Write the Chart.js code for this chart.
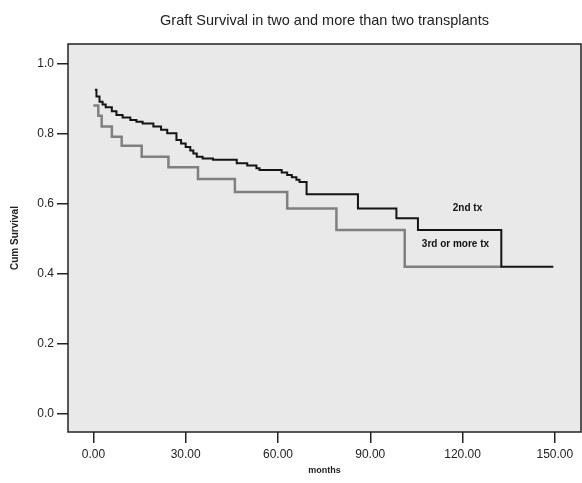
<!DOCTYPE html>
<html>
<head>
<meta charset="utf-8">
<script src="https://cdn.jsdelivr.net/npm/chart.js@4/dist/chart.umd.min.js"></script>
<style>
  html, body { margin: 0; padding: 0; background: #fff; }
  canvas { display: block; }
</style>
</head>
<body>
<canvas id="km" width="582" height="483"></canvas>
<script>
// Kaplan-Meier steps (months, cum survival after the event)
const secondTxMonths = [0.5, 1, 2, 3, 4, 6, 7.5, 9.5, 12, 14, 16, 19.5, 22, 24, 27, 28.5, 30, 31.5, 32.5, 33.6, 35.5, 38.9, 46.6, 50, 53, 54, 61.2, 63, 64.5, 66, 67, 69.3, 86, 98.5, 105.5, 132.6, 149.5];
const secondTxSurv   = [0.926, 0.907, 0.892, 0.884, 0.876, 0.865, 0.854, 0.847, 0.840, 0.835, 0.830, 0.821, 0.812, 0.802, 0.783, 0.773, 0.763, 0.753, 0.744, 0.735, 0.730, 0.726, 0.716, 0.710, 0.702, 0.697, 0.690, 0.683, 0.676, 0.669, 0.663, 0.628, 0.587, 0.559, 0.526, 0.421, 0.421];

const thirdTxMonths = [0, 1.6, 2.7, 6, 9.2, 15.7, 24.4, 34, 46, 63, 79, 101.2, 132.6];
const thirdTxSurv   = [0.881, 0.852, 0.821, 0.792, 0.766, 0.735, 0.705, 0.671, 0.634, 0.587, 0.526, 0.421, 0.421];

const xTicks = [0, 30, 60, 90, 120, 150];
const yTicks = [0, 0.2, 0.4, 0.6, 0.8, 1.0];

const chartTitle = "Graft Survival in two and more than two transplants";

// labels placed next to the curves, in data units
const curveLabels = [
  { text: "2nd tx", x: 121.6, y: 0.589 },
  { text: "3rd or more tx", x: 117.7, y: 0.485 }
];

function toPoints(xs, ys) {
  return xs.map((x, i) => ({ x: x, y: ys[i] }));
}

const fontFamily = "'Liberation Sans', Arial, sans-serif";

// grey plot area + full frame, like the SPSS output
const frame = {
  id: "frame",
  beforeDraw(chart) {
    const a = chart.chartArea, c = chart.ctx;
    c.save();
    c.fillStyle = "#e9e9e9";
    c.fillRect(a.left, a.top, a.right - a.left, a.bottom - a.top);
    c.restore();
  },
  afterDraw(chart) {
    const a = chart.chartArea, c = chart.ctx;
    c.save();
    c.strokeStyle = "#222";
    c.lineWidth = 1.5;
    c.strokeRect(a.left, a.top, a.right - a.left, a.bottom - a.top);

    // title, centred over the plot box
    c.fillStyle = "#222";
    c.font = "14.5px " + fontFamily;
    c.textAlign = "center";
    c.textBaseline = "middle";
    c.fillText(chartTitle, (a.left + a.right) / 2, 21);

    // curve labels
    c.fillStyle = "#111";
    c.font = "bold 10px " + fontFamily;
    curveLabels.forEach(l => {
      c.fillText(l.text, chart.scales.x.getPixelForValue(l.x), chart.scales.y.getPixelForValue(l.y));
    });
    c.restore();
  }
};

new Chart(document.getElementById("km"), {
  type: "line",
  data: {
    datasets: [
      {
        label: "2nd tx",
        data: toPoints(secondTxMonths, secondTxSurv),
        borderColor: "#151515",
        borderWidth: 2,
        stepped: "before",
        pointRadius: 0,
        fill: false
      },
      {
        label: "3rd or more tx",
        data: toPoints(thirdTxMonths, thirdTxSurv),
        borderColor: "#808080",
        borderWidth: 2.5,
        stepped: "before",
        pointRadius: 0,
        fill: false
      }
    ]
  },
  options: {
    responsive: false,
    animation: false,
    layout: { padding: { left: 0, right: 1, top: 44, bottom: 0 } },
    plugins: {
      legend: { display: false },
      tooltip: { enabled: false },
      title: { display: false }
    },
    scales: {
      x: {
        type: "linear",
        min: -8.25,
        max: 158.5,
        afterBuildTicks: s => { s.ticks = xTicks.map(v => ({ value: v })); },
        afterFit: s => { s.height = 51; },
        ticks: {
          color: "#222",
          font: { family: fontFamily, size: 12 },
          padding: 4,
          maxRotation: 0,
          callback: v => v.toFixed(2)
        },
        grid: { drawOnChartArea: false, drawTicks: true, tickLength: 11, color: "#222", lineWidth: 1.5 },
        border: { display: false },
        title: {
          display: true,
          text: "months",
          color: "#222",
          font: { family: fontFamily, size: 9, weight: "bold" },
          padding: { top: 0, bottom: 7 }
        }
      },
      y: {
        min: -0.0514,
        max: 1.057,
        afterBuildTicks: s => { s.ticks = yTicks.map(v => ({ value: v })); },
        afterFit: s => { s.width = 68; },
        ticks: {
          color: "#222",
          font: { family: fontFamily, size: 12 },
          padding: 3,
          callback: v => v.toFixed(1)
        },
        grid: { drawOnChartArea: false, drawTicks: true, tickLength: 11, color: "#222", lineWidth: 1.5 },
        border: { display: false },
        title: {
          display: true,
          text: "Cum Survival",
          color: "#222",
          font: { family: fontFamily, size: 10, weight: "bold" },
          padding: { top: 9.6, bottom: 0 }
        }
      }
    }
  },
  plugins: [frame]
});
</script>
</body>
</html>
